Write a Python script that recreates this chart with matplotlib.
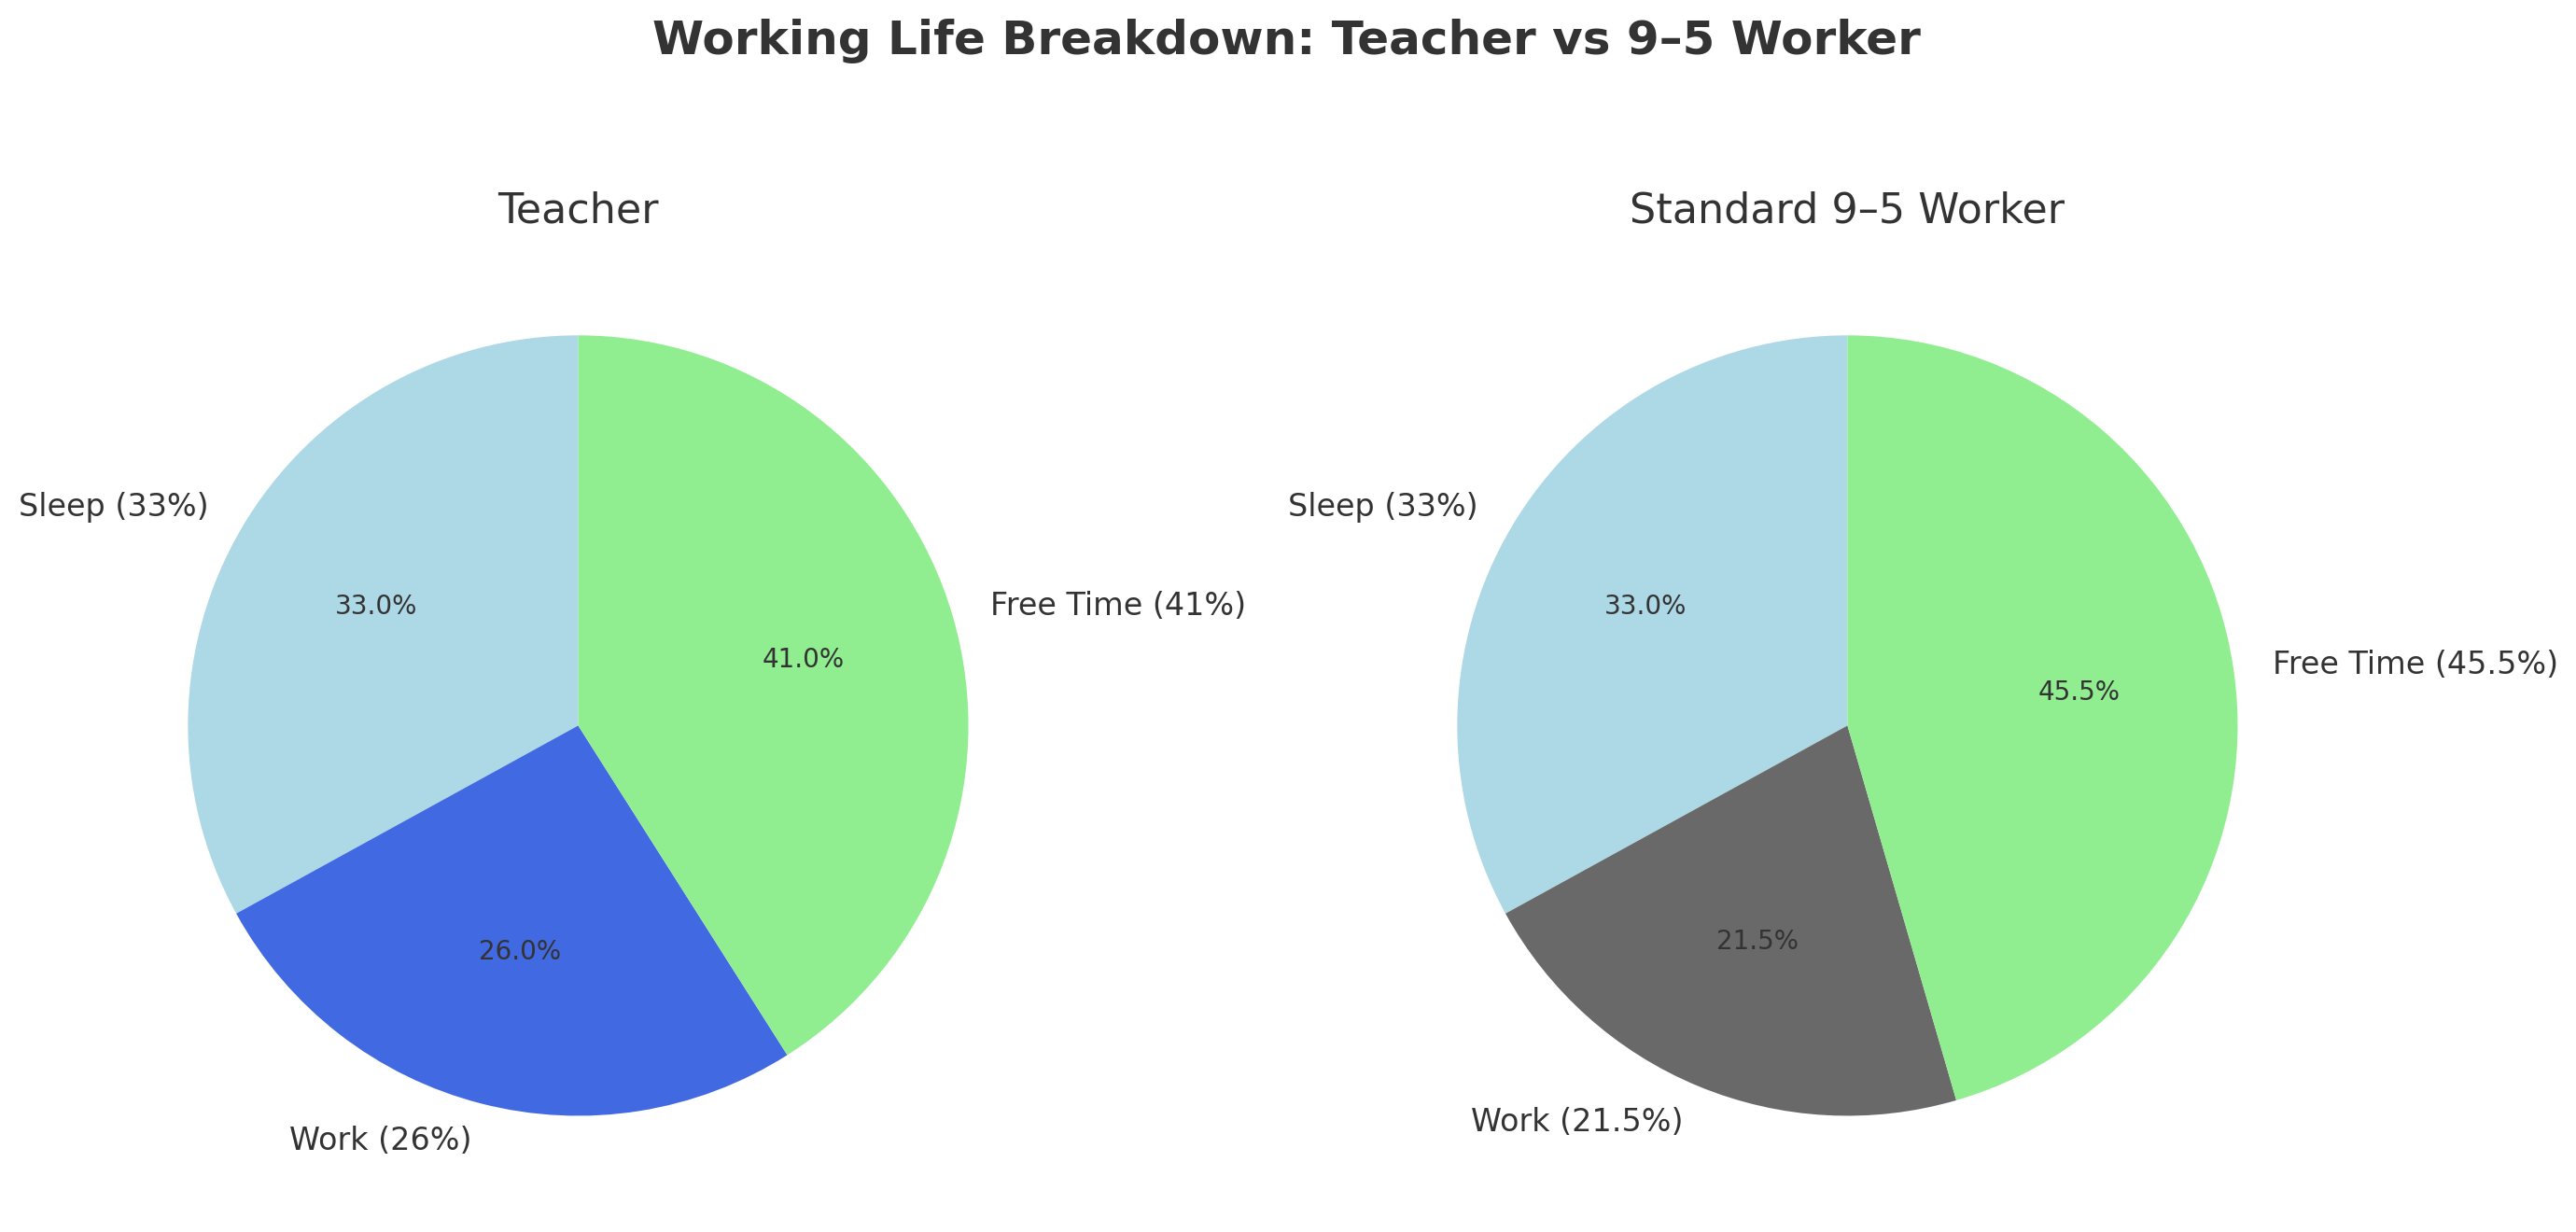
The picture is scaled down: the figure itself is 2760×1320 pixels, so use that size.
import matplotlib
matplotlib.use("Agg")
import matplotlib.pyplot as plt
import seaborn as sns

sns.set_theme(style="white")

categories = ["Sleep", "Work", "Free Time"]
teacher_vals = [33, 26, 41]
worker_vals = [33, 21.5, 45.5]
teacher_labels = ["Sleep (33%)", "Work (26%)", "Free Time (41%)"]
worker_labels = ["Sleep (33%)", "Work (21.5%)", "Free Time (45.5%)"]
teacher_colors = ["lightblue", "royalblue", "lightgreen"]
worker_colors = ["lightblue", "dimgray", "lightgreen"]

txt = "#333333"

fig, axes = plt.subplots(1, 2, figsize=(14, 7))

axes[0].pie(teacher_vals, labels=teacher_labels, colors=teacher_colors,
            autopct="%1.1f%%", startangle=90,
            textprops={"fontsize": 12, "color": txt}, wedgeprops={"linewidth": 0})
axes[0].set_title("Teacher", fontsize=16, color=txt)

axes[1].pie(worker_vals, labels=worker_labels, colors=worker_colors,
            autopct="%1.1f%%", startangle=90,
            textprops={"fontsize": 12, "color": txt}, wedgeprops={"linewidth": 0})
axes[1].set_title("Standard 9\u20135 Worker", fontsize=16, color=txt)

for ax in axes:
    for t in ax.texts:
        if t.get_text().endswith("%") and "(" not in t.get_text():
            t.set_fontsize(10)

fig.suptitle("Working Life Breakdown: Teacher vs 9\u20135 Worker", fontsize=18,
             fontweight="bold", color=txt, y=1.01)
plt.tight_layout()
fig.canvas.draw()
print(fig.get_tightbbox(fig.canvas.get_renderer()))
plt.savefig("out.png", dpi=200, bbox_inches="tight")
